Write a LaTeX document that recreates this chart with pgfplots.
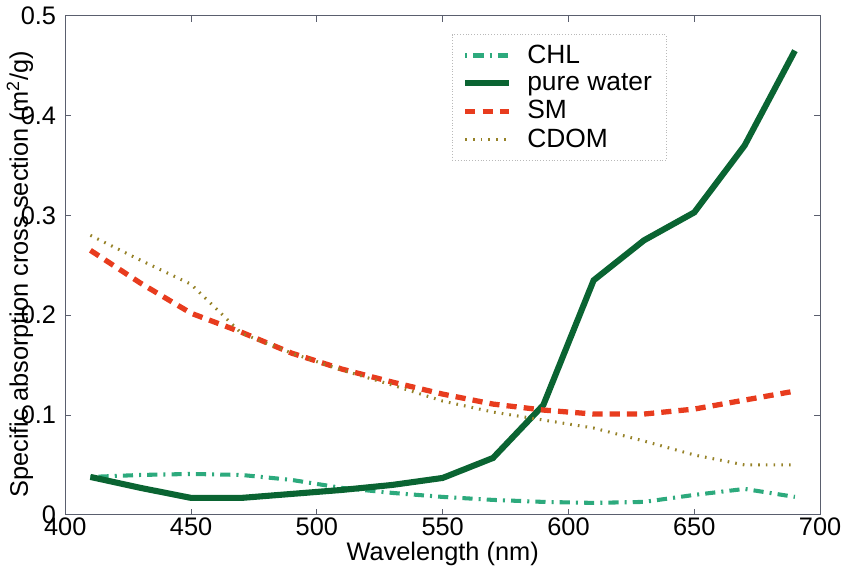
\documentclass[border=0pt]{standalone}
\usepackage{pgfplots}
\pgfplotsset{compat=1.18}
\usepackage{fontspec}
\setmainfont{Liberation Sans}

\definecolor{chl}{RGB}{45,170,125}
\definecolor{water}{RGB}{10,100,50}
\definecolor{sm}{RGB}{232,60,30}
\definecolor{cdom}{RGB}{150,130,40}
\definecolor{axc}{RGB}{90,95,110}

\begin{document}
\begin{tikzpicture}
\begin{axis}[
    scale only axis,
    width=372pt, height=246pt,
    xmin=400, xmax=700, ymin=0, ymax=0.5,
    xtick={400,450,...,700},
    ytick={0,0.1,...,0.5},
    yticklabel style={/pgf/number format/fixed, /pgf/number format/precision=1, xshift=-1pt},
    /pgf/number format/assume math mode=true,
    tick align=inside,
    tick style={axc, thin},
    major tick length=3pt,
    axis line style={axc, thin},
    tick label style={font=\fontsize{12.5}{14}\selectfont},
    label style={font=\fontsize{12.5}{14}\selectfont},
    xlabel={Wavelength (nm)},
    ylabel={Specific absorption cross section (m\textsuperscript{2}/g)},
    xlabel style={yshift=4pt},
    ylabel style={yshift=-13pt, xshift=-4.5pt},
    xticklabel style={yshift=2pt},
    legend style={at={(0.512,0.963)}, anchor=north west, draw=gray!55, densely dotted,
        font=\fontsize{13}{15}\selectfont, row sep=-0.5pt, inner xsep=5pt, inner ysep=3pt},
    legend cell align=left,
    legend image code/.code={\draw[#1] (0cm,0cm) -- (0.76cm,0cm); \path (0.95cm,0cm);},
]
\addplot[chl, solid, line width=2pt, dash pattern=on 1pt off 3pt on 5pt off 3pt] coordinates {
(410,0.038) (430,0.040) (450,0.041) (470,0.040) (490,0.035) (510,0.027)
(530,0.022) (550,0.018) (570,0.015) (590,0.013) (610,0.012) (630,0.013)
(650,0.020) (670,0.026) (690,0.018)};
\addlegendentry{CHL}
\addplot[water, solid, line width=3pt] coordinates {
(410,0.038) (430,0.027) (450,0.017) (470,0.017) (490,0.021) (510,0.025)
(530,0.030) (550,0.037) (570,0.057) (590,0.110) (610,0.235) (630,0.275)
(650,0.303) (670,0.370) (690,0.465)};
\addlegendentry{pure water}
\addplot[sm, solid, line width=2.6pt, dash pattern=on 5pt off 3.5pt] coordinates {
(410,0.265) (430,0.232) (450,0.202) (470,0.183) (490,0.162) (510,0.146)
(530,0.133) (550,0.121) (570,0.111) (590,0.105) (610,0.101) (630,0.101)
(650,0.106) (670,0.115) (690,0.124)};
\addlegendentry{SM}
\addplot[cdom, solid, line width=1.5pt, dash pattern=on 0.8pt off 3pt] coordinates {
(410,0.280) (430,0.255) (450,0.231) (470,0.182) (490,0.162) (510,0.145)
(530,0.130) (550,0.114) (570,0.103) (590,0.095) (610,0.087) (630,0.074)
(650,0.060) (670,0.050) (690,0.050)};
\addlegendentry{CDOM}
\end{axis}
\end{tikzpicture}
\end{document}
